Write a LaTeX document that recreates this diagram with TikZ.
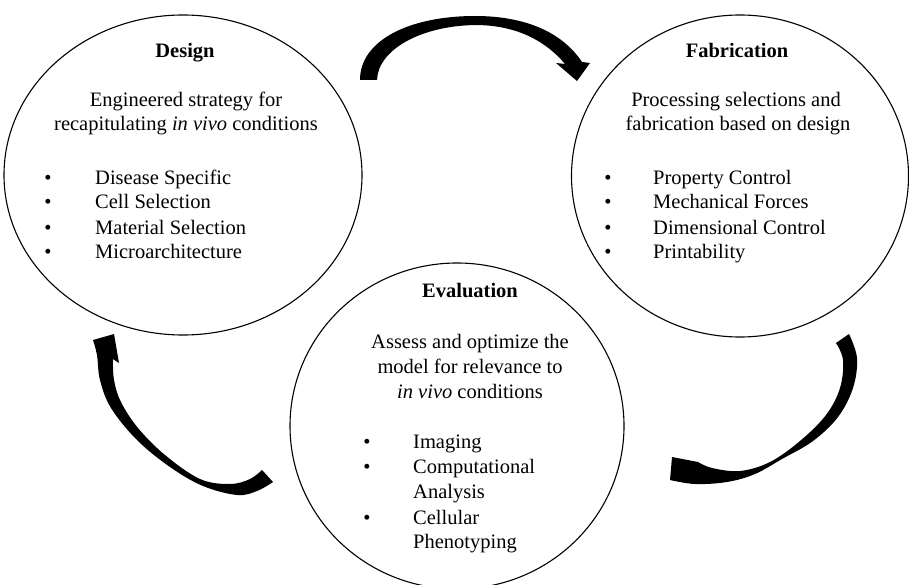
\documentclass[tikz,border=0pt]{standalone}
\usepackage{fontspec}
\setmainfont{Liberation Serif}
\usetikzlibrary{shapes.geometric}
\begin{document}
\begin{tikzpicture}[x=1pt,y=-1pt,
  stage/.style={draw=black, line width=1.1pt, ellipse, inner sep=0pt},
  ttl/.style={font=\fontsize{20.5}{24}\selectfont\bfseries, inner sep=0pt, anchor=base},
  txt/.style={font=\fontsize{20.5}{24}\selectfont, inner sep=0pt, anchor=base},
  itm/.style={font=\fontsize{20.5}{24}\selectfont, inner sep=0pt, anchor=base west},
  dot/.style={font=\fontsize{20.5}{24}\selectfont, inner sep=0pt, anchor=base},
  flow/.style={fill=black, draw=none}]
\useasboundingbox (0,0) rectangle (909,585);

% stage circles
\node[stage, minimum width=358pt, minimum height=320pt] (design) at (183,175) {};
\node[stage, minimum width=337pt, minimum height=322pt] (fab) at (740,176) {};
\node[stage, minimum width=334pt, minimum height=326pt] (eval) at (457,426) {};

% Design text
\node[ttl] (dT) at (185,58) {Design};
\node[txt] (dL1) at (186,107) {Engineered strategy for};
\node[txt] (dL2) at (186,131) {recapitulating \textit{in vivo} conditions};
\node[dot] (dB1) at (48,185) {•};
\node[dot] (dB2) at (48,209) {•};
\node[dot] (dB3) at (48,234) {•};
\node[dot] (dB4) at (48,258) {•};
\node[itm] (dI1) at (95,185) {Disease Specific};
\node[itm] (dI2) at (95,209) {Cell Selection};
\node[itm] (dI3) at (95,234) {Material Selection};
\node[itm] (dI4) at (95,258) {Microarchitecture};

% Fabrication text
\node[ttl] (fT) at (737,58) {Fabrication};
\node[txt] (fL1) at (736,107) {Processing selections and};
\node[txt] (fL2) at (738,131) {fabrication based on design};
\node[dot] (fB1) at (608,185) {•};
\node[dot] (fB2) at (608,209) {•};
\node[dot] (fB3) at (608,234) {•};
\node[dot] (fB4) at (608,258) {•};
\node[itm] (fI1) at (653,185) {Property Control};
\node[itm] (fI2) at (653,209) {Mechanical Forces};
\node[itm] (fI3) at (653,234) {Dimensional Control};
\node[itm] (fI4) at (653,258) {Printability};

% Evaluation text
\node[ttl] (eT) at (470,297) {Evaluation};
\node[txt] (eL1) at (470,348) {Assess and optimize the};
\node[txt] (eL2) at (470,373) {model for relevance to};
\node[txt] (eL3) at (470,398) {\textit{in vivo} conditions};
\node[dot] (eB1) at (367,448) {•};
\node[dot] (eB2) at (367,473) {•};
\node[dot] (eB3) at (367,524) {•};
\node[itm] (eI1) at (413,448) {Imaging};
\node[itm] (eI2) at (413,473) {Computational};
\node[itm] (eI3) at (413,498) {Analysis};
\node[itm] (eI4) at (413,524) {Cellular};
\node[itm] (eI5) at (413,548) {Phenotyping};

% curved arrows
\fill[flow] (360,80) -- (377,80)
  .. controls (378,50) and (420,26) .. (475,25)
  .. controls (515,25) and (545,40) .. (565,64)
  -- (556,63) -- (577,81) -- (590,63) -- (582,62)
  .. controls (562,32) and (525,16) .. (475,16)
  .. controls (410,16) and (360,40) .. (360,80) -- cycle;

\fill[flow] (836,343)
  -- plot[smooth, tension=0.6] coordinates {(849,334) (857,358) (853,388) (838,417) (813,441) (782,459) (755,474) (727,482) (695,484) (670,480)}
  -- (672,457)
  -- plot[smooth, tension=0.6] coordinates {(698,462) (712,468) (740,471) (770,462) (800,441) (826,415) (840,388) (843,360) (836,343)}
  -- cycle;

\fill[flow] (262,470)
  -- plot[smooth, tension=0.6] coordinates {(273,482) (257,491) (237,495) (203,486) (170,467) (137,440) (111,408) (100,380) (97,355) (93,340)}
  -- (114,334) -- (119,363)
  -- plot[smooth, tension=0.6] coordinates {(113,359) (114,380) (121,402) (138,428) (165,455) (200,479) (230,484) (250,479) (262,470)}
  -- cycle;
\end{tikzpicture}
\end{document}
